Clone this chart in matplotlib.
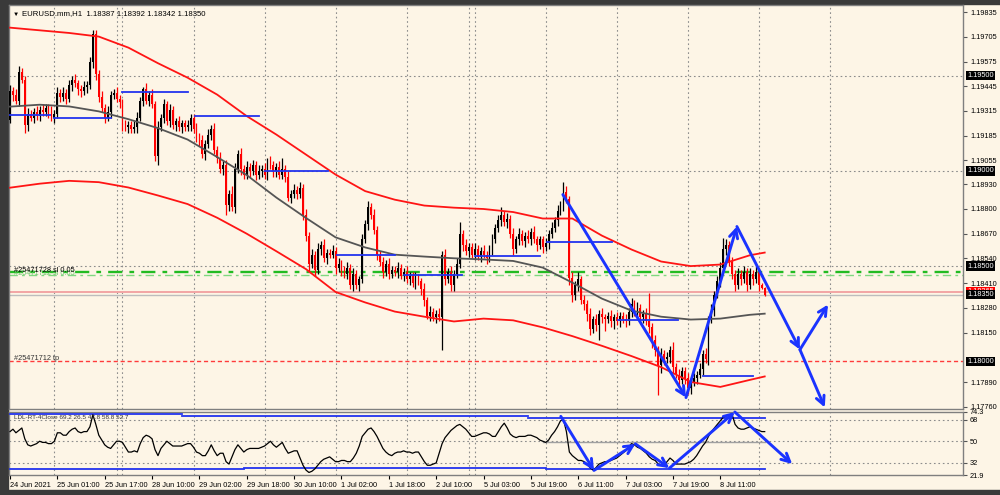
import matplotlib
matplotlib.use('Agg')
import matplotlib.pyplot as plt
from matplotlib.patches import Rectangle

plt.rcParams['font.family'] = ['Liberation Sans', 'DejaVu Sans']

PIP = 0.0001

# EURUSD H1, bar 0 = 24 Jun 2021 09:00; each bar opens at the previous close
first_open = 1.1927
closes = [
    1.1942, 1.1940, 1.1937, 1.1952, 1.1948, 1.1924, 1.1930, 1.1928, 1.1931, 1.1929,
    1.1932, 1.1931, 1.1933, 1.1931, 1.1928, 1.1930, 1.1941, 1.1939, 1.1941, 1.1938,
    1.1945, 1.1948, 1.1946, 1.1943, 1.1942, 1.1944, 1.1945, 1.1957, 1.1972, 1.1951,
    1.1939, 1.1933, 1.1928, 1.1931, 1.1940, 1.1941, 1.1938, 1.1936, 1.1924, 1.1923,
    1.1924, 1.1922, 1.1923, 1.1928, 1.1937, 1.1943, 1.1937, 1.1940, 1.1935, 1.1908,
    1.1923, 1.1928, 1.1935, 1.1926, 1.1932, 1.1924, 1.1926, 1.1923, 1.1925, 1.1923,
    1.1924, 1.1928, 1.1922, 1.1918, 1.1916, 1.1909, 1.1914, 1.1919, 1.1922, 1.1911,
    1.1907, 1.1901, 1.1903, 1.1882, 1.1888, 1.1881, 1.1901, 1.1909, 1.1901, 1.1898,
    1.1902, 1.1900, 1.1903, 1.1898, 1.1900, 1.1901, 1.1898, 1.1905, 1.1903, 1.1900,
    1.1902, 1.1898, 1.1901, 1.1897, 1.1886, 1.1888, 1.1890, 1.1888, 1.1891, 1.1877,
    1.1866, 1.1851, 1.1856, 1.1848, 1.1859, 1.1861, 1.1854, 1.1857, 1.1856, 1.1858,
    1.1849, 1.1851, 1.1848, 1.1846, 1.1849, 1.1840, 1.1846, 1.1840, 1.1843, 1.1864,
    1.1872, 1.1881, 1.1877, 1.1869, 1.1856, 1.1852, 1.1847, 1.1851, 1.1846, 1.1848,
    1.1847, 1.1849, 1.1845, 1.1847, 1.1843, 1.1845, 1.1841, 1.1844, 1.1842, 1.1838,
    1.1832, 1.1824, 1.1826, 1.1823, 1.1825, 1.1823, 1.1856, 1.1843, 1.1847, 1.1840,
    1.1846, 1.1851, 1.1867, 1.1861, 1.1858, 1.1860, 1.1856, 1.1859, 1.1855, 1.1858,
    1.1856, 1.1854, 1.1859, 1.1864, 1.1870, 1.1874, 1.1877, 1.1873, 1.1875, 1.1867,
    1.1859, 1.1864, 1.1867, 1.1863, 1.1866, 1.1864, 1.1868, 1.1864, 1.1861, 1.1864,
    1.1860, 1.1862, 1.1867, 1.1870, 1.1874, 1.1879, 1.1882, 1.1889, 1.1885, 1.1844,
    1.1835, 1.1840, 1.1843, 1.1832, 1.1830, 1.1825, 1.1817, 1.1822, 1.1819, 1.1825,
    1.1823, 1.1822, 1.1824, 1.1821, 1.1823, 1.1821, 1.1824, 1.1822, 1.1821, 1.1826,
    1.1830, 1.1826, 1.1828, 1.1823, 1.1825, 1.1821, 1.1818, 1.1811, 1.1806, 1.1798,
    1.1804, 1.1801, 1.1802, 1.1806, 1.1797, 1.1793, 1.1790, 1.1795, 1.1791, 1.1786,
    1.1789, 1.1791, 1.1793, 1.1796, 1.1804, 1.1801, 1.1822, 1.1827, 1.1835, 1.1842,
    1.1849, 1.1859, 1.1861, 1.1852, 1.1846, 1.1840, 1.1846, 1.1843, 1.1847, 1.1840,
    1.1846, 1.1843, 1.1847, 1.1840, 1.18387, 1.18350,
]
# wick lengths in pips above / below the body
wick_up = [
    3, 2, 3, 3, 2, 2, 3, 2, 2, 3,  2, 3, 2, 2, 3, 2, 3, 2, 3, 2,
    3, 2, 3, 2, 2, 3, 2, 3, 2, 2,  2, 3, 2, 3, 2, 2, 3, 2, 2, 3,
    2, 2, 3, 3, 2, 1, 3, 2, 3, 2,  3, 2, 3, 2, 3, 2, 2, 3, 2, 2,
    3, 2, 2, 3, 2, 3, 2, 3, 2, 3,  2, 3, 2, 3, 2, 4, 3, 2, 3, 2,
    3, 2, 3, 2, 3, 2, 3, 2, 3, 2,  2, 3, 6, 2, 3, 2, 3, 2, 3, 2,
    3, 2, 3, 2, 3, 2, 3, 2, 2, 3,  2, 3, 2, 2, 3, 2, 3, 2, 2, 3,
    2, 3, 2, 3, 2, 2, 3, 2, 3, 2,  2, 3, 2, 2, 3, 2, 2, 3, 2, 2,
    3, 2, 3, 2, 2, 3, 2, 3, 2, 3,  2, 3, 6, 2, 3, 2, 2, 3, 2, 2,
    3, 2, 2, 3, 2, 3, 4, 2, 3, 2,  3, 2, 3, 2, 2, 3, 2, 3, 2, 2,
    2, 3, 2, 3, 2, 3, 2, 5, 3, 2,  3, 2, 4, 2, 3, 2, 3, 2, 3, 2,
    3, 2, 2, 3, 2, 3, 2, 2, 3, 2,  3, 2, 3, 2, 2, 3, 15, 2, 3, 2,
    3, 2, 3, 2, 4, 2, 3, 2, 2, 3,  2, 3, 2, 3, 2, 3, 2, 3, 2, 3,
    3, 6, 3, 2, 3, 2, 3, 2, 3, 2,  3, 2, 3, 2, 1, 0.5,
]
wick_dn = [
    2, 3, 2, 3, 2, 4, 3, 2, 3, 2,  3, 2, 2, 3, 2, 3, 2, 3, 2, 3,
    2, 3, 2, 3, 3, 2, 3, 2, 3, 3,  3, 2, 3, 2, 3, 2, 2, 3, 3, 2,
    3, 2, 2, 3, 2, 3, 2, 3, 2, 3,  5, 2, 3, 2, 3, 2, 3, 2, 3, 2,
    2, 3, 2, 3, 3, 2, 3, 2, 3, 2,  3, 2, 3, 5, 3, 2, 3, 2, 3, 2,
    2, 3, 2, 3, 2, 3, 2, 3, 2, 3,  3, 2, 2, 3, 2, 3, 2, 3, 2, 3,
    3, 4, 2, 3, 2, 3, 2, 3, 2, 2,  3, 2, 3, 2, 3, 2, 3, 2, 3, 2,
    2, 3, 2, 2, 3, 2, 3, 2, 3, 2,  2, 3, 2, 3, 2, 3, 2, 3, 2, 3,
    3, 2, 3, 2, 3, 2, 17, 3, 2, 3,  3, 2, 2, 3, 2, 3, 2, 3, 2, 3,
    2, 3, 2, 3, 2, 2, 3, 2, 3, 2,  3, 2, 3, 2, 3, 2, 3, 2, 3, 2,
    3, 2, 3, 2, 2, 3, 2, 3, 2, 4,  4, 3, 3, 2, 3, 4, 3, 2, 3, 8,
    3, 6, 2, 3, 4, 2, 3, 2, 3, 2,  3, 2, 3, 2, 3, 2, 3, 4, 3, 16,
    4, 3, 2, 3, 3, 2, 3, 2, 3, 3,  3, 2, 3, 2, 3, 2, 3, 2, 3, 2,
    3, 2, 3, 2, 3, 3, 2, 3, 2, 3,  2, 3, 2, 3, 1, 0.8,
]

# smooth band indicator, read every 10 bars
curve_bars = [0, 10, 20, 30, 40, 50, 60, 70, 80, 90, 100, 110, 120, 130,
              140, 150, 160, 170, 180, 190, 200, 210, 220, 230, 240, 250, 255]
upper_band = [1.19753, 1.19739, 1.19725, 1.19706, 1.19648, 1.19566, 1.19490, 1.19401,
              1.19288, 1.19191, 1.19086, 1.18981, 1.18894, 1.18849, 1.18818, 1.18807,
              1.18800, 1.18784, 1.18750, 1.18750, 1.18660, 1.18587, 1.18524, 1.18500,
              1.18508, 1.18557, 1.18571]
lower_band = [1.18912, 1.18933, 1.18948, 1.18941, 1.18913, 1.18871, 1.18826, 1.18754,
              1.18670, 1.18578, 1.18484, 1.18364, 1.18309, 1.18261, 1.18234, 1.18209,
              1.18224, 1.18215, 1.18178, 1.18132, 1.18081, 1.18027, 1.17969, 1.17891,
              1.17865, 1.17902, 1.17920]
mid_line = [1.19338, 1.19348, 1.19339, 1.19313, 1.19272, 1.19225, 1.19165, 1.19073,
            1.18978, 1.18860, 1.18753, 1.18651, 1.18598, 1.18560, 1.18550, 1.18541,
            1.18535, 1.18527, 1.18492, 1.18413, 1.18329, 1.18266, 1.18234, 1.18219,
            1.18224, 1.18244, 1.18250]

# blue level segments: (start bar, end bar, price)
level_segments = [(0, 13.5, 1.19292), (15, 34, 1.19279), (38, 60, 1.19413),
                  (62.5, 84, 1.19287), (86, 107.5, 1.18998), (110.5, 130, 1.18560),
                  (133, 152.7, 1.18455), (157, 179, 1.18555), (181.4, 203.4, 1.18625),
                  (205.4, 225.7, 1.18219), (234, 251, 1.17925)]

# hand drawn arrows (bar, price) and (bar, oscillator value)
price_arrows = [((186.8, 1.18876), (228.4, 1.17809)), ((228.4, 1.17809), (245.6, 1.18708)),
                ((245.6, 1.18708), (266.9, 1.18061)), ((266.9, 1.18061), (276.4, 1.18298)),
                ((266.9, 1.18061), (275.3, 1.17757))]
osc_arrows = [((186.1, 70.7), (197.3, 25.7)), ((197.3, 25.7), (211.3, 47.8)),
              ((211.3, 47.8), (222.8, 27.6)), ((222.8, 27.6), (244.9, 74.3)),
              ((244.9, 74.3), (264.3, 31.0))]

# oscillator in the lower window
osc = [58, 60, 57, 59, 61, 52, 47, 46, 47, 48, 50, 49, 49, 48, 48, 50, 57, 57, 55, 55,
       58, 60, 61, 58, 57, 58, 58, 62, 72, 64, 55, 51, 47, 45, 44, 47, 50, 50, 49, 45,
       41, 41, 42, 41, 48, 53, 55, 54, 52, 43, 38, 44, 47, 50, 48, 46, 46, 46, 46, 47,
       48, 48, 45, 41, 40, 38, 38, 42, 47, 42, 38, 40, 40, 33, 31, 37, 43, 47, 44, 41,
       43, 44, 44, 44, 44, 45, 46, 48, 50, 47, 45, 47, 49, 44, 40, 41, 42, 42, 36, 30,
       26, 24, 25, 27, 30, 33, 35, 36, 37, 35, 33, 33, 34, 34, 33, 33, 36, 40, 46, 54,
       57, 60, 61, 58, 54, 49, 44, 41, 39, 38, 40, 41, 41, 42, 41, 41, 40, 41, 41, 37,
       33, 30, 30, 31, 32, 40, 48, 53, 56, 59, 61, 63, 64, 62, 60, 57, 54, 54, 55, 56,
       57, 57, 56, 54, 54, 58, 62, 65, 61, 56, 54, 53, 54, 54, 54, 55, 55, 54, 53, 51,
       50, 49, 51, 55, 58, 62, 67, 68, 58, 41, 38, 36, 34, 34, 33, 31, 28, 26, 28, 31,
       32, 33, 33, 34, 35, 36, 38, 40, 42, 45, 48, 47, 45, 44, 42, 40, 37, 35, 34, 31,
       30, 30, 33, 36, 34, 31, 31, 31, 31, 32, 33, 35, 38, 42, 46, 49, 54, 58, 61, 64,
       67, 70, 71, 72, 72, 64, 61, 60, 60, 61, 62, 61, 60, 59, 58, 58]
osc_top = [(0, 58, 72.3), (58, 175, 71.0), (175, 255, 69.2)]
osc_bottom = [(0, 79, 26.5), (79, 181, 27.6), (181, 255, 26.5)]

separators = [15, 36, 38, 62, 86, 110, 134, 155, 157, 181, 205, 229, 253, 277]
time_ticks = [0, 16, 32, 48, 64, 80, 96, 112, 128, 144, 160, 176, 192, 208, 224, 240]
time_labels = ['24 Jun 2021', '25 Jun 01:00', '25 Jun 17:00', '28 Jun 10:00', '29 Jun 02:00',
               '29 Jun 18:00', '30 Jun 10:00', '1 Jul 02:00', '1 Jul 18:00', '2 Jul 10:00',
               '5 Jul 03:00', '5 Jul 19:00', '6 Jul 11:00', '7 Jul 03:00', '7 Jul 19:00',
               '8 Jul 11:00']
price_ticks = [1.19835, 1.19705, 1.19575, 1.19445, 1.19315, 1.19185, 1.19055, 1.18930,
               1.18800, 1.18670, 1.18540, 1.18410, 1.18280, 1.18150, 1.17890, 1.17760]
osc_ticks = [74.3, 68, 50, 32, 21.9]

BG = '#fdf5e6'
BLUE = '#1a33ff'
GRID = '#8c8c8c'
FS = 5.3

fig = plt.figure(figsize=(10, 4.95), dpi=100, facecolor=BG)
for rect in [(0, 0, 0.008, 1), (0, 1 - 4 / 495, 1, 4 / 495), (0, 0, 1, 5 / 495)]:
    fig.patches.append(Rectangle(rect[:2], rect[2], rect[3], transform=fig.transFigure,
                                 color='#3a3a3a', zorder=-5))

ax = fig.add_axes([0.009, 86 / 495, 0.954, 404 / 495], facecolor=BG)
ax2 = fig.add_axes([0.009, 20 / 495, 0.954, 63 / 495], facecolor=BG)

# candles
opens = [first_open] + closes[:-1]
xs = list(range(len(closes)))
cols, lows, highs, bottoms, heights = [], [], [], [], []
for o, c, u, d in zip(opens, closes, wick_up, wick_dn):
    cols.append('black' if c >= o else '#ff0000')
    highs.append(max(o, c) + u * PIP)
    lows.append(min(o, c) - d * PIP)
    bottoms.append(min(o, c))
    heights.append(max(abs(c - o), 0.00002))
ax.vlines(xs, lows, highs, colors=cols, lw=0.9, zorder=3)
ax.bar(xs, heights, bottom=bottoms, width=0.62, color=cols, lw=0, zorder=3)

ax.plot(curve_bars, upper_band, color='#ff1414', lw=1.3, zorder=4)
ax.plot(curve_bars, lower_band, color='#ff1414', lw=1.3, zorder=4)
ax.plot(curve_bars, mid_line, color='#555555', lw=1.3, zorder=4)

for b0, b1, p in level_segments:
    ax.plot([b0, b1], [p, p], color='#2233ee', lw=1.3, zorder=5)

# horizontal levels and order lines
for p in [1.195, 1.19, 1.185]:
    ax.axhline(p, color=GRID, lw=0.8, ls=(0, (1.5, 2.5)), zorder=1)
ax.axhline(1.18467, color='#22bb22', lw=1.7, ls=(0, (6, 3, 2, 3)), zorder=2)
ax.axhline(1.18455, color='#80d880', lw=1.0, ls=(0, (6, 3, 2, 3)), zorder=2)
ax.axhline(1.18362, color='#f2a5a5', lw=1.4, zorder=2)
ax.axhline(1.18350, color='#bdbdbd', lw=1.0, zorder=2)
ax.axhline(1.18000, color='#ff3b3b', lw=1.0, ls=(0, (3, 2)), zorder=2)
ax.text(1.5, 1.18478, '#25471728 sl 0.05', fontsize=FS, va='center', color='black', zorder=6)
ax.text(1.5, 1.18462, '#25471712 sl 0.05', fontsize=FS, va='center', color='#70c870', zorder=5)
ax.text(1.5, 1.18013, '#25471712 tp', fontsize=FS, va='center', color='#333333', zorder=6)

for b in separators:
    ax.axvline(b, color=GRID, lw=0.8, ls=(0, (1.5, 2.5)), zorder=1)
    ax2.axvline(b, color=GRID, lw=0.8, ls=(0, (1.5, 2.5)), zorder=1)


def draw_arrow(axis, p0, p1):
    axis.annotate('', xy=p1, xytext=p0, annotation_clip=False, zorder=7,
                  arrowprops=dict(arrowstyle='->,head_length=0.6,head_width=0.3',
                                  color=BLUE, lw=2.1, shrinkA=0, shrinkB=0))


for p0, p1 in price_arrows:
    draw_arrow(ax, p0, p1)

ax.set_xlim(-0.34, 322)
ax.set_ylim(1.17749, 1.19872)
ax.set_xticks([])
ax.yaxis.tick_right()
ax.set_yticks(price_ticks)
ax.set_yticklabels(['%.5f' % v for v in price_ticks])
ax.tick_params(axis='y', direction='out', length=3, pad=2, labelsize=FS, color='#555555')

# boxed price labels on the right scale
boxes = [(1.18365, '#ff0000'), (1.19500, 'black'), (1.19000, 'black'), (1.18500, 'black'),
         (1.18350, 'black'), (1.18000, 'black')]
for p, fc in boxes:
    ax.text(1.0 + 4 / 954, p, '%.5f' % p, transform=ax.get_yaxis_transform(), fontsize=FS,
            color='white', va='center', ha='left', clip_on=False, zorder=8,
            bbox=dict(boxstyle='square,pad=0.15', fc=fc, ec='none'))

fig.text(0.013, 1 - 14 / 495, '▼', fontsize=4.5, va='center', color='black')
fig.text(0.022, 1 - 14 / 495, 'EURUSD.mm,H1  1.18387 1.18392 1.18342 1.18350',
         fontsize=FS + 0.3, va='center', color='black')

# lower window
for lv in [68, 50, 32]:
    ax2.axhline(lv, color=GRID, lw=0.8, ls=(0, (1.5, 2.5)), zorder=1)
ax2.plot([180, 255], [49.5, 49.5], color='#a0a0a0', lw=1.0, zorder=2)
for b0, b1, v in osc_top + osc_bottom:
    ax2.plot([b0, b1], [v, v], color='#2233ee', lw=1.3, zorder=3)
ax2.plot(range(len(osc)), osc, color='black', lw=0.9, zorder=4)
for p0, p1 in osc_arrows:
    draw_arrow(ax2, p0, p1)
ax2.text(1.5, 69.8, 'LDL-RT-4Close 69.2 26.5 47.8 58.8 52.7', fontsize=4.6, va='center',
         color='#333333', zorder=6)

ax2.set_xlim(-0.34, 322)
ax2.set_ylim(21.9, 74.3)
ax2.yaxis.tick_right()
ax2.set_yticks(osc_ticks)
ax2.set_yticklabels(['74.3', '68', '50', '32', '21.9'])
ax2.tick_params(axis='y', direction='out', length=3, pad=2, labelsize=FS, color='#555555')
ax2.set_xticks(time_ticks)
ax2.set_xticklabels(time_labels)
for lbl in ax2.get_xticklabels():
    lbl.set_horizontalalignment('left')
ax2.tick_params(axis='x', direction='out', length=3, pad=2, labelsize=FS, color='black')

for a in (ax, ax2):
    for s in a.spines.values():
        s.set_color('#7f7f7f')
        s.set_linewidth(1.0)

fig.savefig('out.png', dpi=100, facecolor=BG)
